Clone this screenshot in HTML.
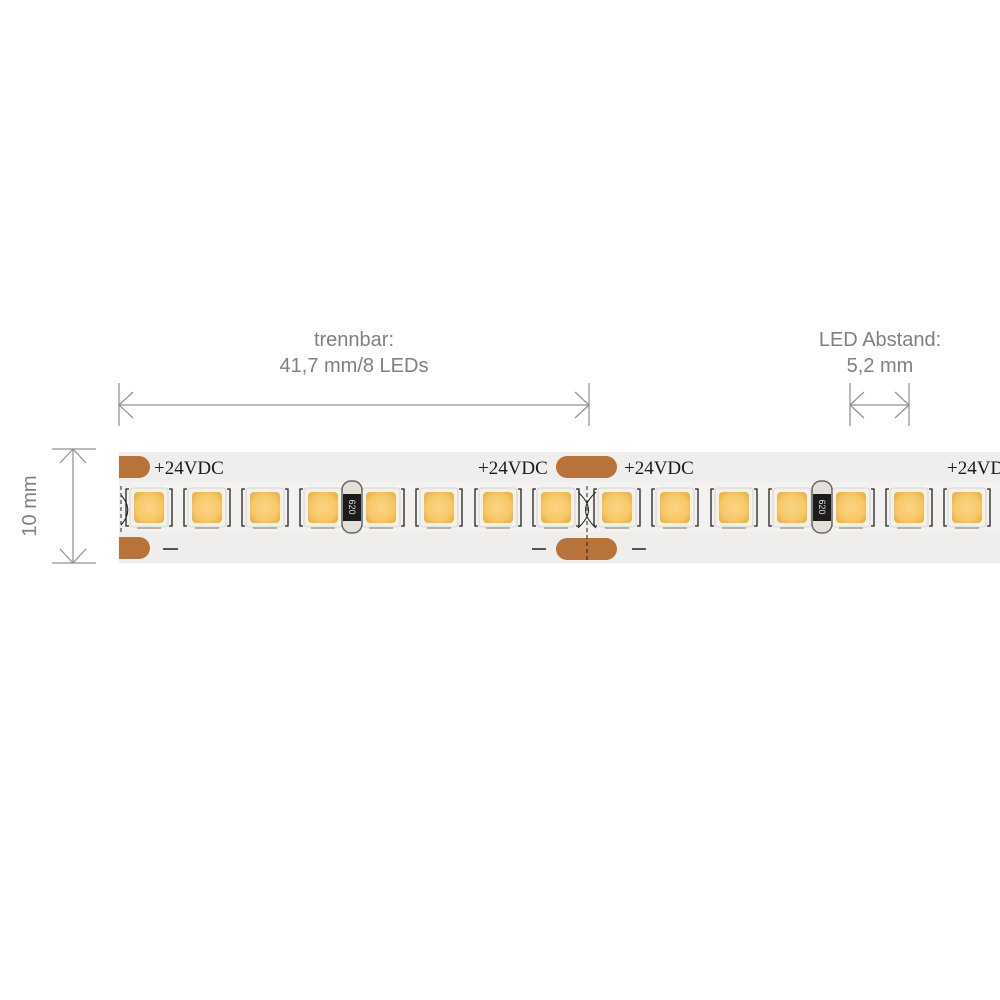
<!DOCTYPE html>
<html><head><style>
html,body{margin:0;padding:0;background:#fff;}
svg{display:block}
</style></head><body>
<svg width="1000" height="1000" viewBox="0 0 1000 1000" xmlns="http://www.w3.org/2000/svg">
<defs>
<radialGradient id="ledg" cx="50%" cy="50%" r="60%">
<stop offset="0" stop-color="#fbd586"/><stop offset="0.7" stop-color="#f7c867"/><stop offset="1" stop-color="#e9b452"/>
</radialGradient>
<g id="led">
<path d="M-20,-18 h-3 v37 h3 M20,-18 h3 v37 h-3" fill="none" stroke="#222" stroke-width="1.3"/>
<rect x="-19" y="-19" width="38" height="39" rx="3" fill="#f4f1e8" stroke="#ccc" stroke-width="0.8"/>
<rect x="-15" y="-15" width="30" height="31" rx="4" fill="url(#ledg)"/>
<rect x="-12" y="20" width="24" height="2" fill="#b9b3a5"/>
</g>
<g id="res">
<rect x="-10" y="-26" width="20" height="52" rx="9" fill="#e3e0d9" stroke="#666" stroke-width="1.5"/>
<rect x="-9" y="-13" width="18" height="27" fill="#1c1c1c"/>
<text x="0" y="0" transform="rotate(90)" font-family="Liberation Sans,sans-serif" font-size="9" fill="#ddd" text-anchor="middle" dy="3">620</text>
</g>
</defs>
<!-- dimension texts -->
<g font-family="Liberation Sans, sans-serif" font-size="20" fill="#808080" text-anchor="middle">
<text x="354" y="346">trennbar:</text>
<text x="354" y="372">41,7 mm/8 LEDs</text>
<text x="880" y="346">LED Abstand:</text>
<text x="880" y="372">5,2 mm</text>
<text transform="translate(36,506) rotate(-90)">10 mm</text>
</g>
<g stroke="#909090" stroke-width="1.2" fill="none">
<line x1="119" y1="383" x2="119" y2="426"/><line x1="589" y1="383" x2="589" y2="426"/>
<line x1="119" y1="405" x2="589" y2="405"/>
<path d="M133,392 L119,405 L133,418 M575,392 L589,405 L575,418"/>
<line x1="850" y1="383" x2="850" y2="426"/><line x1="909" y1="383" x2="909" y2="426"/>
<line x1="850" y1="405" x2="909" y2="405"/>
<path d="M864,392 L850,405 L864,418 M895,392 L909,405 L895,418"/>
<line x1="52" y1="449" x2="96" y2="449"/><line x1="52" y1="563" x2="96" y2="563"/>
<line x1="73" y1="449" x2="73" y2="563"/>
<path d="M60,463 L73,449 L86,463 M60,549 L73,563 L86,549"/>
</g>
<!-- strip -->
<rect x="119" y="452" width="881" height="111" fill="#efeeec"/>
<rect x="119" y="482" width="881" height="50" fill="#f3f2f0"/>
<!-- copper pads -->
<g fill="#b8733a">
<path d="M119,456 h20 a11,11 0 0 1 0,22 h-20z"/>
<path d="M119,537 h20 a11,11 0 0 1 0,22 h-20z"/>
<rect x="556" y="456" width="61" height="22" rx="11"/>
<rect x="556" y="538" width="61" height="22" rx="11"/>
</g>
<g font-family="Liberation Serif, serif" font-size="19" fill="#1a1a1a">
<text x="154" y="474">+24VDC</text>
<text x="478" y="474">+24VDC</text>
<text x="624" y="474">+24VDC</text>
<text x="947" y="474">+24VDC</text>
</g>
<g stroke="#222" stroke-width="1.5">
<line x1="163" y1="549" x2="178" y2="549"/>
<line x1="532" y1="549" x2="546" y2="549"/>
<line x1="632" y1="549" x2="646" y2="549"/>
</g>
<g stroke="#222" stroke-width="1" fill="none">
<line x1="587" y1="486" x2="587" y2="560" stroke-dasharray="4,3"/>
<path d="M578,492 C592,505 592,515 578,528 M596,492 C582,505 582,515 596,528"/>
<line x1="121" y1="486" x2="121" y2="535" stroke-dasharray="4,3"/>
<path d="M121,495 C130,505 130,515 121,525"/>
</g>
<g transform="translate(0,507)">
<use href="#led" x="149"/><use href="#led" x="207"/><use href="#led" x="265"/><use href="#led" x="323"/>
<use href="#led" x="381"/><use href="#led" x="439"/><use href="#led" x="498"/><use href="#led" x="556"/>
<use href="#led" x="617"/><use href="#led" x="675"/><use href="#led" x="734"/><use href="#led" x="792"/>
<use href="#led" x="851"/><use href="#led" x="909"/><use href="#led" x="967"/>
<use href="#res" x="352"/><use href="#res" x="822"/>
</g>
</svg>
</body></html>
